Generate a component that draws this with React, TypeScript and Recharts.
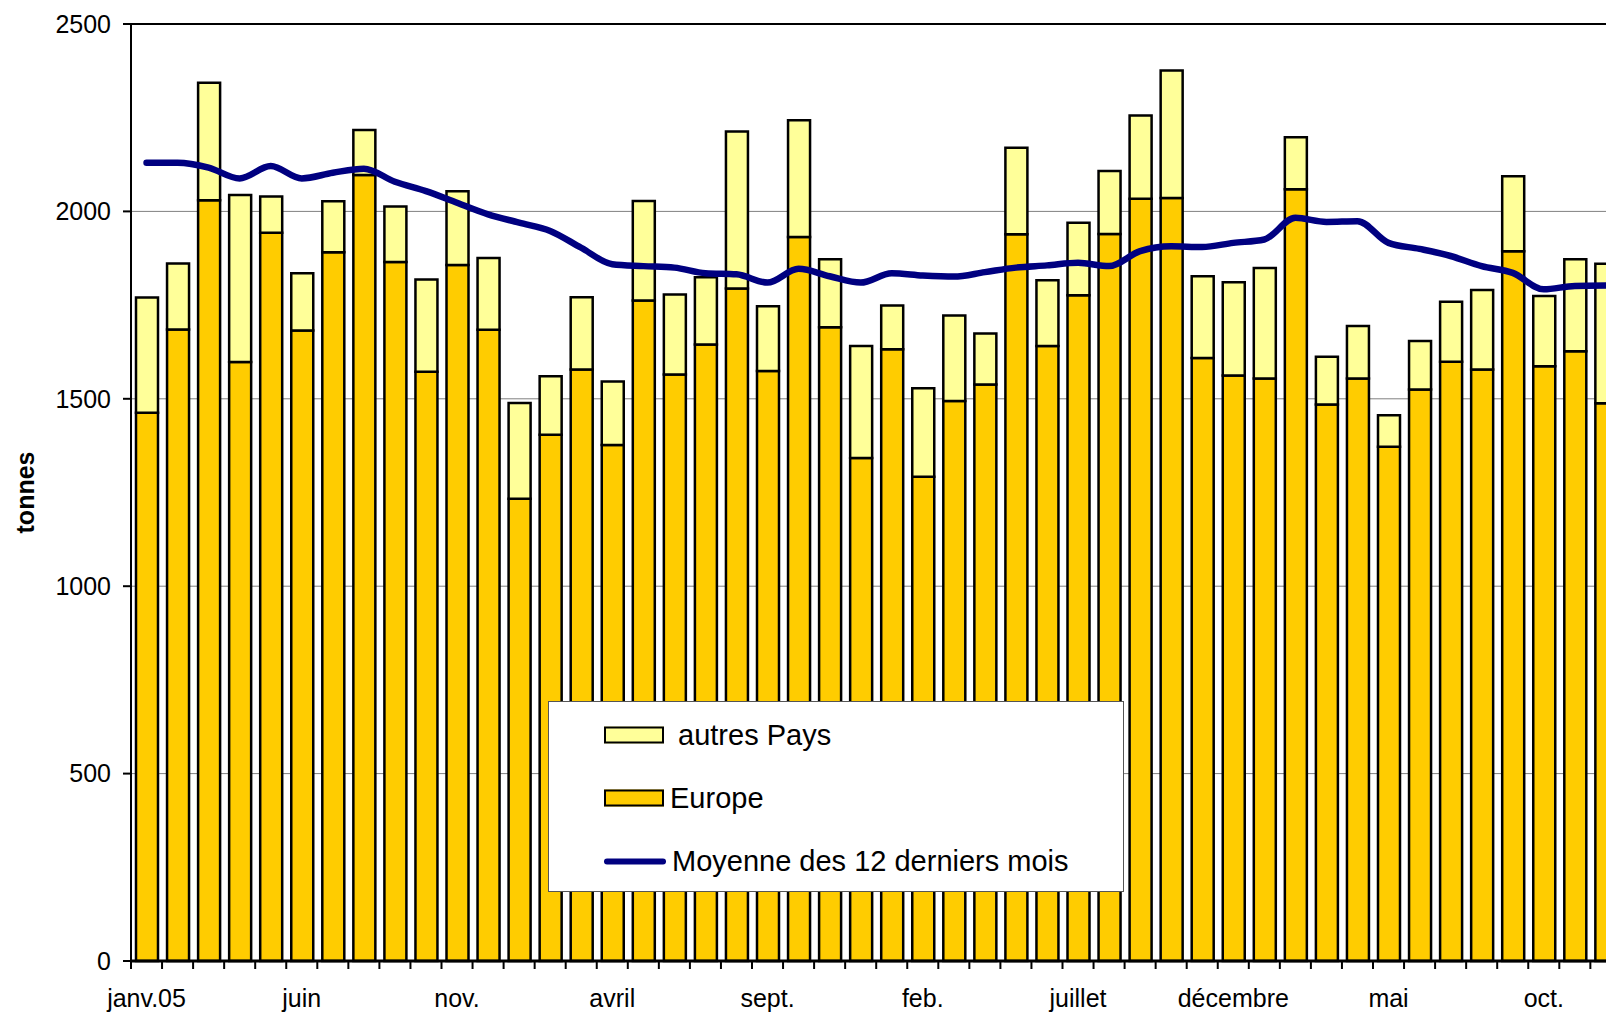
import {
  ComposedChart,
  Bar,
  Line,
  XAxis,
  YAxis,
  CartesianGrid,
  ReferenceLine,
  Legend,
  Label,
} from 'recharts';

// mois de janv. 2005 à déc. 2008
const MONTHS = [
  'janv.05', 'févr.05', 'mars05', 'avr.05', 'mai05', 'juin05', 'juil.05', 'août05', 'sept.05', 'oct.05', 'nov.05', 'déc.05',
  'janv.06', 'févr.06', 'mars06', 'avr.06', 'mai06', 'juin06', 'juil.06', 'août06', 'sept.06', 'oct.06', 'nov.06', 'déc.06',
  'janv.07', 'févr.07', 'mars07', 'avr.07', 'mai07', 'juin07', 'juil.07', 'août07', 'sept.07', 'oct.07', 'nov.07', 'déc.07',
  'janv.08', 'févr.08', 'mars08', 'avr.08', 'mai08', 'juin08', 'juil.08', 'août08', 'sept.08', 'oct.08', 'nov.08', 'déc.08',
];

// une étiquette tous les 5 mois
const TICK_LABELS = ['janv.05', 'juin', 'nov.', 'avril', 'sept.', 'feb.', 'juillet', 'décembre', 'mai', 'oct.'];

const EUROPE = [
  1463, 1685, 2030, 1598, 1943, 1682, 1891, 2097, 1865, 1572, 1857, 1684,
  1233, 1404, 1578, 1377, 1762, 1565, 1645, 1794, 1574, 1932, 1691, 1342,
  1632, 1292, 1494, 1538, 1939, 1641, 1776, 1940, 2034, 2036, 1609, 1562,
  1554, 2059, 1485, 1554, 1372, 1525, 1599, 1578, 1894, 1587, 1627, 1488,
];

const AUTRES = [
  307, 176, 313, 446, 97, 153, 136, 120, 148, 246, 197, 192,
  256, 156, 193, 169, 266, 213, 179, 419, 173, 311, 181, 299,
  117, 236, 228, 136, 231, 175, 194, 168, 222, 340, 218, 249,
  295, 139, 127, 140, 84, 129, 160, 212, 200, 187, 245, 372,
];

const MOYENNE = [
  2130, 2130, 2117, 2088, 2121, 2088, 2103, 2114, 2079, 2054, 2023, 1992,
  1970, 1948, 1903, 1859, 1854, 1850, 1835, 1832, 1810, 1847, 1827, 1810,
  1835, 1829, 1826, 1838, 1850, 1856, 1863, 1854, 1894, 1907, 1905, 1916,
  1925, 1983, 1972, 1974, 1916, 1900, 1881, 1854, 1836, 1792, 1801, 1802,
];

const Y_TICKS = [0, 500, 1000, 1500, 2000, 2500];
const LEGEND_ORDER = ['autres', 'europe', 'moyenne'];

const data = MONTHS.map((month, i) => ({
  month,
  europe: EUROPE[i],
  autres: AUTRES[i],
  moyenne: MOYENNE[i],
}));

const XTick = (props: any) => {
  const {x, y, payload, index} = props;
  const half = payload?.offset ?? 15.5;
  const label = index % 5 === 0 ? TICK_LABELS[index / 5] : '';
  return (
    <g>
      <line x1={x - half} x2={x - half} y1={y} y2={y + 8} stroke="#000" strokeWidth={2}/>
      {label && (
        <text x={x} y={y + 37} textAnchor="middle" dominantBaseline="central" fontSize={25} fill="#000">
          {label}
        </text>
      )}
    </g>
  );
};

const renderLegend = (props: any) => {
  const items = [...(props.payload || [])].sort(
    (a: any, b: any) => LEGEND_ORDER.indexOf(a.dataKey) - LEGEND_ORDER.indexOf(b.dataKey),
  );
  return (
    <div style={{position: 'relative', width: '100%', height: '100%'}}>
      {items.map((it: any, i: number) => (
        <div
          key={it.dataKey}
          style={{
            position: 'absolute',
            left: 55,
            top: 33 + i * 63,
            transform: 'translateY(-50%)',
            display: 'flex',
            alignItems: 'center',
          }}
        >
          {it.type === 'line' ? (
            <span style={{display: 'block', width: 62, height: 6, borderRadius: 3, background: it.color}}/>
          ) : (
            <span
              style={{
                display: 'block',
                width: 60,
                height: 17,
                boxSizing: 'border-box',
                background: it.color,
                border: '2px solid #000',
              }}
            />
          )}
          <span style={{marginLeft: 6, fontSize: 29, whiteSpace: 'pre', color: '#000', lineHeight: 1}}>
            {it.value}
          </span>
        </div>
      ))}
    </div>
  );
};

const App = () => {
  return (
    <div
      style={{
        position: 'absolute',
        left: 0,
        top: 0,
        width: 1606,
        height: 1014,
        overflow: 'hidden',
        background: '#fff',
        fontFamily: '"Liberation Sans", Arial, sans-serif',
      }}
    >
      <ComposedChart
        width={1640}
        height={1014}
        data={data}
        margin={{top: 24, right: 18.6, left: 0, bottom: 0}}
      >
        <CartesianGrid vertical={false} stroke="#808080" strokeWidth={1}/>
        <XAxis
          dataKey="month"
          interval={0}
          height={53}
          tickSize={0}
          tickMargin={0}
          tickLine={false}
          axisLine={{stroke: '#000', strokeWidth: 3}}
          tick={<XTick/>}
        />
        <YAxis
          domain={[0, 2500]}
          ticks={Y_TICKS}
          width={131}
          tickSize={8}
          tickMargin={12}
          tickLine={{stroke: '#000', strokeWidth: 2}}
          axisLine={{stroke: '#000', strokeWidth: 2}}
          tick={{fontSize: 25, fill: '#000'}}
        >
          <Label
            content={({viewBox}: any) => {
              const cx = viewBox.x + 25;
              const cy = viewBox.y + viewBox.height / 2;
              return (
                <text
                  x={cx}
                  y={cy}
                  transform={`rotate(-90 ${cx} ${cy})`}
                  textAnchor="middle"
                  dominantBaseline="central"
                  fontSize={25}
                  fontWeight="bold"
                  fill="#000"
                >
                  tonnes
                </text>
              );
            }}
          />
        </YAxis>
        <ReferenceLine y={2500} stroke="#000" strokeWidth={2}/>
        <Bar
          dataKey="europe"
          name="Europe"
          stackId="s"
          fill="#FFCC00"
          stroke="#000"
          strokeWidth={2.5}
          barSize={22}
          isAnimationActive={false}
        />
        <Bar
          dataKey="autres"
          name=" autres Pays"
          stackId="s"
          fill="#FFFF99"
          stroke="#000"
          strokeWidth={2.5}
          barSize={22}
          isAnimationActive={false}
        />
        <Line
          dataKey="moyenne"
          name="Moyenne des 12 derniers mois"
          type="monotone"
          stroke="#000080"
          strokeWidth={6.5}
          strokeLinecap="round"
          dot={false}
          isAnimationActive={false}
        />
        <Legend
          layout="vertical"
          align="center"
          verticalAlign="middle"
          content={renderLegend}
          wrapperStyle={{
            left: 548,
            top: 701,
            width: 576,
            height: 191,
            boxSizing: 'border-box',
            background: '#fff',
            border: '1.5px solid #555',
          }}
        />
      </ComposedChart>
    </div>
  );
};

export default App;
